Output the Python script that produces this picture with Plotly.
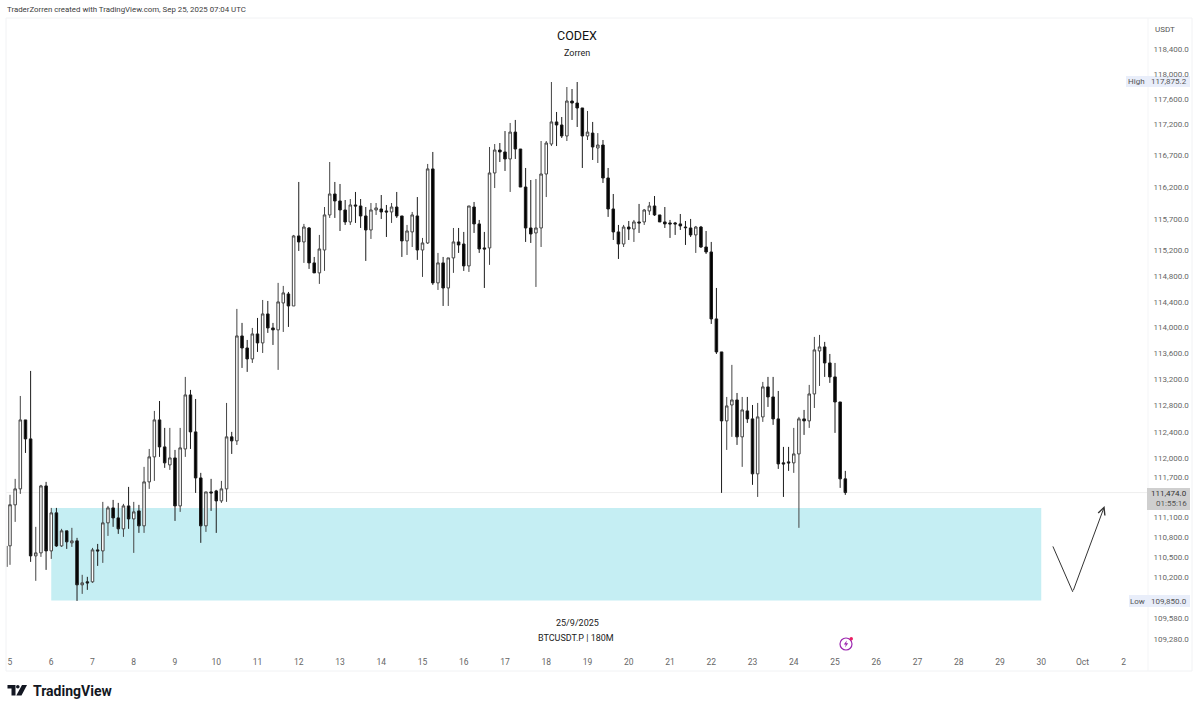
import math
from datetime import datetime, timedelta
import plotly.graph_objects as go

# ---------- data ----------
direction = ("UUUDDUUDUD" "UDUDUDUDUU" "DDUDUDUUUD" "DUDUUDDDUD" "DUUDUDDUDU"
             "DDUUDUDUDD" "UUUDDDUDDD" "UUDDUDDUUD" "UUDUDUUDDU" "DDDUUDDUDD"
             "DDUUUUDDUD" "DDUDUDDDDU" "DUDUUDDDDD" "DDDUDDDDDU" "UDUDDUUDDD"
             "DDUUDUUUDD" "DDD")
wick_high = [
111440,111682,112947,112580,113332,110956,111591,111636,111242,111242,
110926,110896,110941,110790,110235,110205,110639,110699,111333,111272,
111363,111318,111303,111560,111333,111288,111864,112137,112718,112870,
112458,112458,112122,112458,113240,113040,112901,111773,111484,111682,
111515,111651,112840,112397,114291,114074,113810,113996,114151,114430,
114415,114074,114696,114649,114555,115446,116280,115619,115570,115101,
115446,115885,116596,116280,116248,115995,116011,116122,116011,115885,
115948,115948,116074,115917,115948,116122,115744,115603,115807,116042,
115399,116565,116755,115164,115101,115086,115555,115555,115493,115901,
115964,115681,115493,116834,116881,116897,117087,117216,117264,116802,
116501,116311,116327,116929,116929,117870,117391,117311,117790,117758,
117870,117455,117407,117232,117055,116945,116501,116090,115603,115603,
115665,115681,115933,115854,115964,116058,115760,115885,115681,115650,
115775,115665,115697,115587,115587,115508,115336,114617,113625,112932,
113425,112993,112932,112932,112809,112840,113163,113240,113240,113024,
112168,112168,112458,112626,112733,113117,113857,113888,113780,113594,
113455,112855,111803]
body_high = [
111290,111530,112580,112580,112290,110564,111575,111575,111167,111167,
110896,110896,110745,110745,110115,110130,110609,110609,111016,111242,
111242,111091,111272,111272,111182,111197,111636,112016,112580,112580,
112168,112000,112000,112153,112963,112963,112397,111696,111484,111484,
111499,111530,112321,112321,113872,113872,113686,113903,113903,114213,
114213,113996,114400,114540,114524,115430,115430,115570,115555,115008,
115226,115760,116090,116090,115980,115838,115917,115917,115901,115744,
115838,115870,115854,115823,115885,115885,115744,115508,115760,115744,
115320,116486,116486,115008,115008,115086,115336,115336,115304,115901,
115885,115619,115242,116422,116786,116786,116755,117071,117071,116802,
116200,115555,115555,116406,116897,117232,117232,117184,117566,117566,
117534,117455,117071,117055,116865,116865,116343,115854,115493,115570,
115570,115650,115650,115838,115901,115901,115760,115650,115634,115634,
115619,115570,115555,115570,115570,115257,115179,114136,113625,112794,
112886,112886,112733,112718,112596,112626,113086,113086,112932,112596,
111925,111940,112061,112596,112596,112978,113656,113702,113702,113455,
113240,112855,111682]
body_low = [
110670,111288,111530,112290,110519,110519,110564,110594,110594,110669,
110669,110730,110715,110085,110085,110115,110130,110594,110594,111016,
111091,110926,110926,111076,111076,110971,110971,111636,112016,112168,
111925,111894,111272,111272,112137,112397,111696,110971,110971,111469,
111348,111348,111530,112260,112260,113686,113517,113517,113764,113764,
113996,113966,113966,114384,114337,114337,115336,115336,115008,114852,
114852,115210,115760,115980,115838,115650,115650,115901,115744,115524,
115524,115838,115807,115807,115807,115744,115352,115352,115493,115210,
115210,115320,114696,114696,114617,114617,115086,115289,114961,114961,
115619,115226,115226,115242,116422,116755,116644,116644,116802,116200,
115555,115461,115477,115555,116406,116881,117184,117009,117009,117534,
117455,117009,117009,116834,116818,116343,115854,115493,115304,115304,
115539,115539,115634,115650,115823,115760,115650,115619,115619,115619,
115587,115560,115446,115446,115257,115179,114136,113625,112565,112565,
112809,112321,112321,112596,111758,111758,112626,112932,112596,111909,
111909,111925,111925,112061,112565,112565,112978,113640,113455,113240,
112855,111682,111474]
wick_low = [
110385,111031,111454,112076,110429,110145,110504,110309,110474,110654,
110654,110624,110654,109845,109950,110010,110115,110369,110414,110820,
110956,110850,110805,110926,110564,110865,110865,111530,111651,112016,
111849,111818,111046,111182,112016,112137,111469,110715,110880,111197,
110865,111318,111333,112061,112198,113378,113317,113455,113625,113609,
113919,113733,113348,113934,114012,114337,115195,115008,114914,114852,
114680,114883,115713,115713,115508,115603,115603,115634,115555,115039,
115383,115760,115697,115414,115634,115713,115101,115132,115257,115055,
114789,115304,114665,114586,114337,114337,114852,115164,114883,114867,
115477,115164,114617,114977,116184,116596,116454,116122,116644,116200,
115336,115320,114633,115257,116042,116849,116849,116977,116929,117264,
117152,116501,116945,116628,116580,116264,115729,115367,115070,115257,
115367,115336,115477,115603,115760,115744,115650,115555,115399,115446,
115524,115289,115414,115164,115242,115148,114058,113594,111469,112122,
112321,112198,111864,112534,111591,111408,112550,112779,112504,111833,
111408,111803,111773,110941,112351,112458,112763,113101,113240,113148,
112382,111545,111439]

price_ticks = [118400,118000,117600,117200,116700,116200,115700,115200,114800,
               114400,114000,113600,113200,112800,112400,112000,111700,111100,
               110800,110500,110200,109580,109280]
day_ticks = ["2025-09-%02d" % d for d in range(5, 31)] + ["2025-10-01", "2025-10-02"]
day_labels = [str(d) for d in range(5, 31)] + ["Oct", "2"]

zone_start, zone_end = "2025-09-06", "2025-09-30"
zone_top, zone_bottom = 111242, 109850
last_price = 111474
stray_wick_time = ["2025-09-04 22:25", "2025-09-04 22:25"]
stray_wick_price = [110669, 110354]
path_time = ["2025-09-30 06:24", "2025-09-30 18:20", "2025-10-01 12:50"]
path_price = [110684, 109980, 111270]

# ---------- build ----------
W, H = 1200, 710
L, R, T, B = 6, 1148, 18, 652
t0 = datetime(2025, 9, 5)
times = [t0 + timedelta(hours=3 * i) for i in range(len(direction))]
opens = [bl if d == "U" else bh for d, bh, bl in zip(direction, body_high, body_low)]
closes = [bh if d == "U" else bl for d, bh, bl in zip(direction, body_high, body_low)]

def px(x):
    return (x - L) / (R - L)
def py(y):
    return (B - y) / (B - T)

DAY = 41.25
x_left = t0 + timedelta(days=(L - 10) / DAY)
x_right = t0 + timedelta(days=(R - 10) / DAY)
K = 1.3589e-4
y_top = 118400 * math.exp((49 - T) * K)
y_bot = 118400 * math.exp((49 - B) * K)

fig = go.Figure()
fig.add_trace(go.Scatter(x=stray_wick_time, y=stray_wick_price, mode="lines",
                         line=dict(color="#666666", width=1), hoverinfo="skip", showlegend=False))
fig.add_trace(go.Candlestick(
    x=times, open=opens, high=wick_high, low=wick_low, close=closes,
    increasing=dict(line=dict(color="#444444", width=1), fillcolor="#ffffff"),
    decreasing=dict(line=dict(color="#1c1c1c", width=1), fillcolor="#000000"),
    whiskerwidth=0, showlegend=False, hoverinfo="skip"))

shapes = [
    dict(type="rect", xref="x", yref="y", x0=zone_start, x1=zone_end, y0=zone_bottom, y1=zone_top,
         fillcolor="#c5eef3", line=dict(width=0), layer="below"),
    dict(type="line", xref="paper", yref="y", x0=0, x1=1, y0=last_price, y1=last_price,
         line=dict(color="#eeeeee", width=1), layer="below"),
]
def prect(x0, y0, x1, y1, fill=None, line=None, lw=1, shape="rect"):
    d = dict(type=shape, xref="paper", yref="paper", x0=px(x0), x1=px(x1), y0=py(y0), y1=py(y1),
             line=dict(width=lw if line else 0, color=line or "rgba(0,0,0,0)"), layer="below")
    if fill:
        d["fillcolor"] = fill
    return d
# faint chart frame
shapes += [
    prect(6, 18, 1192, 671, line="#f1f2f4"),
    prect(1148, 18, 1148, 671, line="#f4f5f7", shape="line"),
    # value pills
    prect(1126, 76, 1190, 87, fill="#e9eefa"),
    prect(1129, 595, 1190, 607, fill="#e9eefa"),
    prect(1147, 488, 1190, 510, fill="#cfcfcf"),
    # alert icon
    prect(840, 638, 852, 650, line="#9c27b0", lw=1.2, shape="circle"),
    prect(849.5, 637, 853, 640.5, fill="#e91e63", shape="circle"),
]
def path(points, fill):
    s = "M" + " L".join(f"{px(x):.5f},{py(y):.5f}" for x, y in points) + " Z"
    return dict(type="path", xref="paper", yref="paper", path=s, fillcolor=fill, line=dict(width=0))
shapes += [
    path([(846.8, 640.5), (843.8, 644.5), (845.8, 644.5), (845, 647.5), (848.2, 643.3), (846.2, 643.3)], "#9c27b0"),
    # TradingView mark
    path([(7.5, 685), (15.5, 685), (15.5, 695.5), (11.5, 695.5), (11.5, 688.5), (7.5, 688.5)], "#131722"),
    path([(22, 685), (27, 685), (21.5, 695.5), (16.3, 695.5)], "#131722"),
    dict(prect(16, 685, 19.6, 688.6, fill="#131722", shape="circle"), layer="above"),
]

def label(x, y, text, size=9, color="#333333", anchor="center", family="Roboto, sans-serif"):
    return dict(xref="paper", yref="paper", x=px(x), y=py(y), text=text, showarrow=False,
                xanchor=anchor, yanchor="middle", align=anchor,
                font=dict(size=size, color=color, family=family))
annotations = [
    label(5, 9.5, "TraderZorren created with TradingView.com, Sep 25, 2025 07:04 UTC", 7.85, "#3c3c3c", "left"),
    label(577, 35, "CODEX", 12.5, "#111111"),
    label(577, 53.5, "Zorren", 9, "#222222"),
    label(577, 623, "25/9/2025", 9, "#222222"),
    label(576, 638, "BTCUSDT.P | 180M", 9, "#222222"),
    label(1164.5, 29, "USDT", 8, "#555555"),
    label(1136.5, 81.5, "High", 8, "#555555"),
    label(1189, 81.5, "117,875.2", 8, "#555555", "right"),
    label(1137, 601, "Low", 8, "#555555"),
    label(1189, 601, "109,850.0", 8, "#555555", "right"),
    label(1189, 493.5, "111,474.0", 8, "#333333", "right"),
    label(1189, 503, "01:55:16", 8, "#555555", "right"),
    label(31, 690.5, "<b>TradingView</b>", 14, "#131722", "left"),
]
for i in range(2):
    annotations.append(dict(
        xref="x", yref="y", axref="x", ayref="y",
        x=path_time[i + 1], y=math.log10(path_price[i + 1]),
        ax=path_time[i], ay=math.log10(path_price[i]),
        text="", showarrow=True, arrowcolor="#333333", arrowwidth=1,
        arrowhead=5 if i else 0, arrowsize=1.4))

fig.update_layout(
    width=W, height=H, paper_bgcolor="#ffffff", plot_bgcolor="#ffffff",
    margin=dict(l=L, r=W - R, t=T, b=H - B, pad=0),
    shapes=shapes, annotations=annotations, showlegend=False,
    font=dict(family="Roboto, sans-serif"),
    xaxis=dict(type="date", range=[x_left, x_right], rangeslider=dict(visible=False),
               tickmode="array", tickvals=day_ticks, ticktext=day_labels,
               showgrid=False, zeroline=False, showline=False, ticks="outside", ticklen=2,
               tickcolor="rgba(0,0,0,0)", tickangle=0, tickfont=dict(size=8.5, color="#666666")),
    yaxis=dict(type="log", side="right", range=[math.log10(y_bot), math.log10(y_top)],
               tickmode="array", tickvals=price_ticks,
               ticktext=[f"{p:,.1f}" for p in price_ticks],
               showgrid=False, zeroline=False, showline=False, ticks="outside", ticklen=3,
               tickcolor="rgba(0,0,0,0)", tickfont=dict(size=8, color="#666666")),
)
fig.write_html("out.html", config=dict(displayModeBar=False),
               post_script="document.body.style.margin='0';document.body.style.overflow='hidden';")
